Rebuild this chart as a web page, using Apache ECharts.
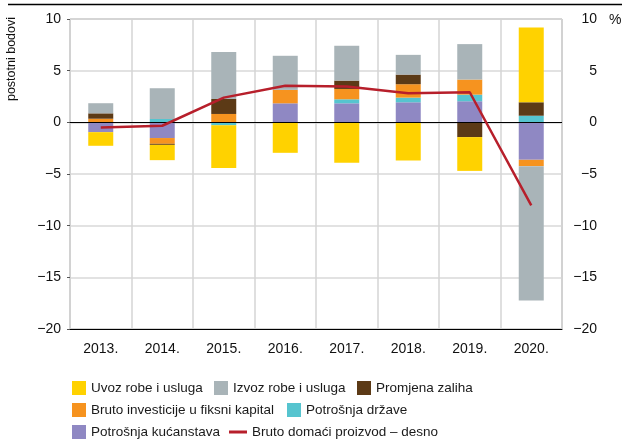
<!DOCTYPE html>
<html>
<head>
<meta charset="utf-8">
<script src="https://cdn.jsdelivr.net/npm/echarts@6/dist/echarts.min.js"></script>
<style>
  html, body { margin: 0; padding: 0; background: #fff; }
  #main { width: 624px; height: 443px; }
</style>
</head>
<body>
<div id="main"></div>
<script>
var years = ['2013.', '2014.', '2015.', '2016.', '2017.', '2018.', '2019.', '2020.'];
var kucanstva = [-0.95, -1.52, 0, 1.84, 1.84, 1.94, 2.04, -3.63];
var drzava = [0, 0.32, -0.29, 0, 0.39, 0.45, 0.64, 0.64];
var investicije = [0.35, -0.56, 0.81, 1.30, 1.00, 1.30, 1.46, -0.61];
var zalihe = [0.52, -0.10, 1.45, 0, 0.81, 0.93, -1.43, 1.30];
var izvoz = [0.98, 2.98, 4.54, 3.30, 3.37, 1.91, 3.43, -13.01];
var uvoz = [-1.32, -1.48, -4.12, -2.95, -3.92, -3.69, -3.27, 7.24];
var bdp = [-0.49, -0.33, 2.39, 3.55, 3.46, 2.82, 2.91, -8.03];

var chartDom = document.getElementById('main');
var myChart = echarts.init(chartDom);
var font = '"Liberation Sans", Arial, sans-serif';

function minus(v) {
  return String(v).replace('-', '\u2212');
}

function legendAt(name, left, top, extra) {
  var l = {
    data: [name],
    left: left,
    top: top,
    padding: 0,
    selectedMode: false,
    icon: 'rect',
    itemWidth: 14,
    itemHeight: 14,
    itemGap: 0,
    textStyle: { fontFamily: font, fontSize: 13.5, color: '#1a1a1a', lineHeight: 14 }
  };
  return Object.assign(l, extra || {});
}

function barSeries(name, data, color) {
  return {
    name: name,
    type: 'bar',
    stack: 'sum',
    barWidth: 25,
    data: data,
    itemStyle: { color: color },
    emphasis: { disabled: true }
  };
}

var series = [
  barSeries('Potrošnja kućanstava', kucanstva, '#8f88c3'),
  barSeries('Potrošnja države', drzava, '#56c4cf'),
  barSeries('Bruto investicije u fiksni kapital', investicije, '#f6931f'),
  barSeries('Promjena zaliha', zalihe, '#5c3a16'),
  barSeries('Izvoz robe i usluga', izvoz, '#a9b4b8'),
  barSeries('Uvoz robe i usluga', uvoz, '#ffd200')
];
series[0].markLine = {
  silent: true,
  symbol: 'none',
  label: { show: false },
  lineStyle: { color: '#000', width: 1, type: 'solid' },
  data: [{ yAxis: 0 }]
};
series.push({
  name: 'Bruto domaći proizvod – desno',
  type: 'line',
  yAxisIndex: 1,
  data: bdp,
  showSymbol: false,
  z: 10,
  lineStyle: { color: '#b71f2b', width: 2.5 },
  itemStyle: { color: '#b71f2b' }
});

var option = {
  animation: false,
  grid: {
    left: 70, right: 62, top: 19, bottom: 114,
    show: true, borderColor: '#9a9a9a', borderWidth: 1
  },
  legend: [
    legendAt('Uvoz robe i usluga', 72, 381),
    legendAt('Izvoz robe i usluga', 214, 381),
    legendAt('Promjena zaliha', 357, 381),
    legendAt('Bruto investicije u fiksni kapital', 72, 403),
    legendAt('Potrošnja države', 287, 403),
    legendAt('Potrošnja kućanstava', 72, 425),
    legendAt('Bruto domaći proizvod – desno', 229, 425, { icon: 'rect', itemWidth: 18, itemHeight: 3 })
  ],
  xAxis: {
    type: 'category',
    data: years,
    boundaryGap: true,
    axisLine: { onZero: false, lineStyle: { color: '#000', width: 1 } },
    axisTick: { show: false },
    axisLabel: { fontFamily: font, fontSize: 14, color: '#111', margin: 13 },
    splitLine: { show: true, lineStyle: { color: '#d4d4d4', width: 1.5 } }
  },
  yAxis: [
    {
      type: 'value', min: -20, max: 10, interval: 5,
      axisLine: { show: false },
      axisTick: { show: true, length: 3, lineStyle: { color: '#555' } },
      axisLabel: { fontFamily: font, fontSize: 14, color: '#111', margin: 9, formatter: minus },
      splitLine: { lineStyle: { color: '#d9d9d9', width: 1.5 } }
    },
    {
      type: 'value', min: -20, max: 10, interval: 5, position: 'right',
      axisLine: { show: false },
      axisTick: { show: false },
      axisLabel: { fontFamily: font, fontSize: 14, color: '#111', margin: 35, align: 'right', formatter: minus },
      splitLine: { show: false }
    }
  ],
  graphic: [
    { type: 'line', shape: { x1: 8, y1: 4.5, x2: 622, y2: 4.5 }, style: { stroke: '#000', lineWidth: 1.5 } },
    { type: 'text', x: 12, y: 59, rotation: Math.PI / 2,
      style: { text: 'postotni bodovi', fontFamily: font, fontSize: 12.5, fill: '#111', align: 'center', verticalAlign: 'middle' } },
    { type: 'text', x: 609, y: 20,
      style: { text: '%', fontFamily: font, fontSize: 14, fill: '#111', align: 'left', verticalAlign: 'middle' } }
  ],
  series: series
};

option && myChart.setOption(option);
</script>
</body>
</html>
